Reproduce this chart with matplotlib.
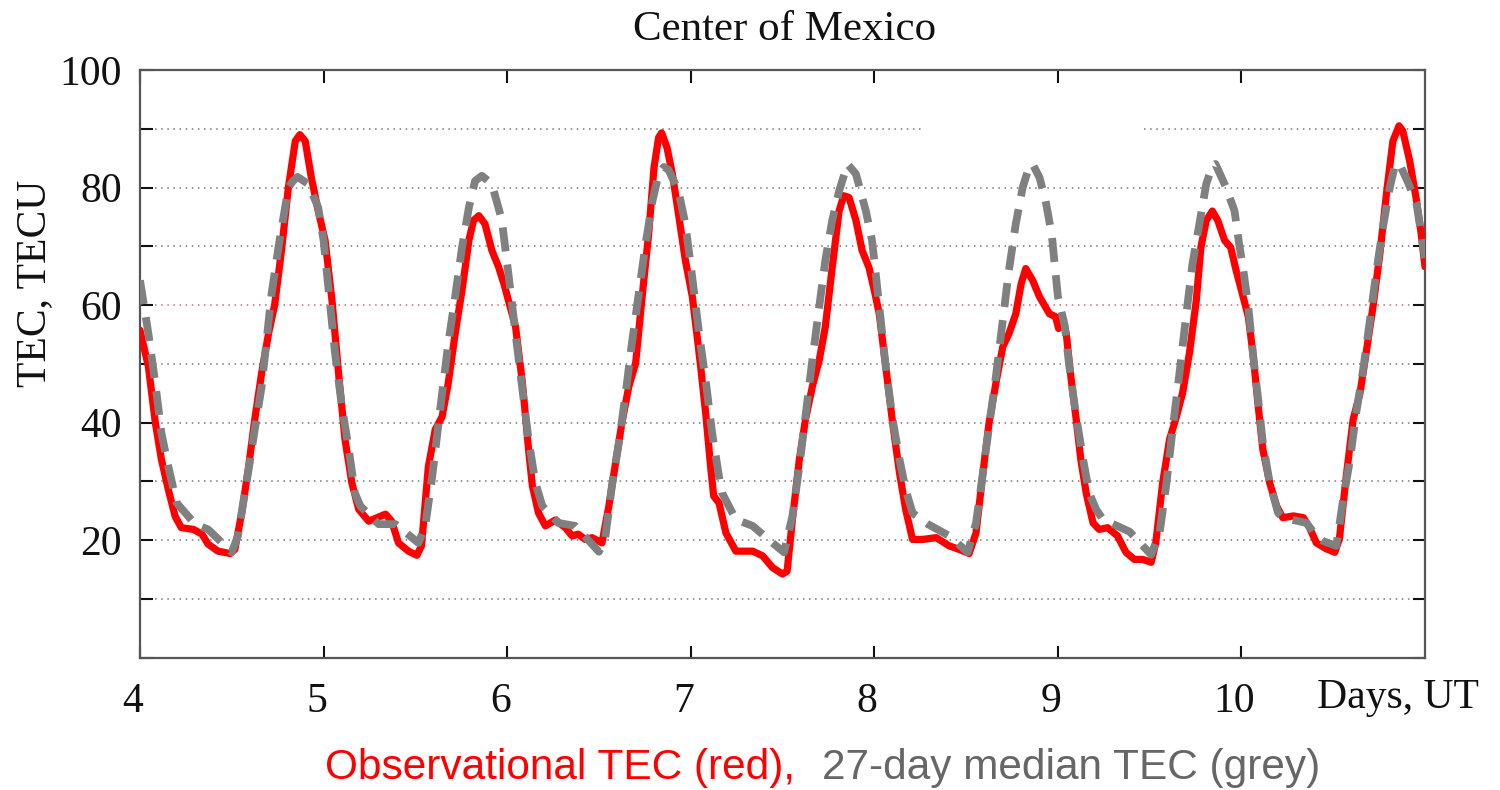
import numpy as np
import matplotlib
matplotlib.use("Agg")
import matplotlib.pyplot as plt
from matplotlib.transforms import ScaledTranslation

# observed TEC (red): hours UT counted from day 4, 00:00
obs_hours = [0.0, 1.1, 2.0, 2.8, 3.7, 4.6, 5.4, 7.0, 8.1, 8.9, 10.2, 11.8, 12.4, 13.3, 14.2, 15.0,
             15.9, 16.8, 17.6, 18.5, 19.4, 20.3, 20.9, 21.6, 22.4, 23.3,
             24.2, 25.1, 26.0, 26.8, 27.7, 28.6, 29.9, 32.1, 32.9, 33.8, 35.1, 36.2, 36.8, 37.7,
             38.6, 39.5, 40.3, 41.2, 42.1, 43.0, 43.6, 44.3, 45.1, 46.0, 46.9, 47.6,
             49.1, 50.0, 50.8, 51.3, 52.1, 53.0, 54.3, 55.6, 56.5, 57.3, 58.2, 59.1, 60.4, 61.3,
             62.1, 63.0, 63.9, 64.8, 65.6, 66.5, 67.2, 67.8, 68.2, 68.9, 69.6, 70.4, 71.3,
             72.2, 72.9, 73.3, 74.0, 74.6, 75.0, 75.7, 76.6, 77.9, 80.1, 81.4, 82.7, 84.0, 84.6,
             85.3, 86.2, 87.0, 87.9, 88.8, 89.6, 90.5, 91.4, 92.0, 92.7, 93.6, 94.4, 95.3,
             96.0, 96.65, 97.5, 98.4, 99.3, 100.1, 101.0, 102.3, 104.1, 105.8, 107.1, 108.4,
             109.3, 110.2, 111.0, 111.9, 112.8, 113.6, 114.5, 115.2, 115.8, 116.7, 117.6, 118.9,
             119.7, 120.1, 120.5, 121.1, 121.7, 122.4, 123.0, 123.7, 124.6, 125.4, 126.5, 127.8,
             128.9, 130.0, 131.1, 132.2, 132.8, 133.7, 134.6, 135.5, 136.3, 137.2, 138.1, 138.7,
             139.4, 140.2, 140.9, 141.8, 142.6, 143.3,
             144.0, 144.9, 145.5, 146.2, 146.8, 147.7, 148.6, 149.4, 150.8, 152.1, 152.9, 153.8,
             155.1, 156.2, 156.8, 157.7, 158.6, 159.5, 160.3, 161.2, 162.1, 163.0, 163.8, 164.6,
             165.1, 166.0, 166.9, 167.5, 168.0]
obs_tec = [55.7, 49.5, 40.0, 33.7, 28.6, 24.0, 22.1, 21.8, 21.0, 19.3, 18.1, 17.7, 18.4, 24.6, 32.5, 40.5,
           48.4, 55.1, 60.0, 69.3, 80.0, 87.9, 89.0, 87.9, 81.7, 76.0,
           71.0, 60.8, 47.8, 37.1, 29.7, 25.2, 23.2, 24.4, 23.2, 19.5, 18.1, 17.4, 19.0, 32.5,
           38.8, 41.0, 46.7, 55.1, 62.5, 71.0, 74.4, 75.2, 73.8, 69.3, 66.4, 63.5,
           56.3, 46.7, 35.4, 29.2, 24.6, 22.4, 23.4, 22.1, 20.7, 21.0, 20.1, 20.4, 19.5, 25.8,
           32.5, 39.9, 46.1, 50.1, 60.8, 72.1, 83.4, 88.5, 89.3, 86.8, 82.3, 75.5, 67.6,
           61.5, 54.0, 49.5, 41.0, 32.5, 27.5, 26.3, 21.2, 18.1, 18.1, 17.3, 15.3, 14.2, 14.7,
           23.5, 33.7, 40.5, 46.1, 50.6, 56.3, 66.4, 76.0, 78.6, 78.3, 74.4, 69.3, 66.4,
           62.5, 58.5, 49.5, 39.9, 31.4, 25.2, 20.1, 20.1, 20.4, 19.0, 18.4, 17.7,
           21.2, 31.4, 39.9, 46.7, 52.9, 55.1, 58.5, 63.6, 66.2, 64.2, 61.4, 58.5,
           58.0, 56.0, 58.2, 55.1, 47.8, 40.5, 33.7, 28.0, 22.9, 21.8, 22.1, 20.7,
           17.9, 16.7, 16.7, 16.2, 19.5, 29.7, 37.1, 41.0, 45.0, 51.8, 60.8, 69.8,
           74.4, 76.0, 74.4, 71.0, 69.8, 65.9,
           62.5, 58.0, 51.8, 42.7, 35.4, 29.7, 25.8, 23.8, 24.1, 23.8, 22.1, 19.5,
           18.5, 17.9, 20.1, 30.8, 40.5, 45.0, 51.8, 59.7, 68.7, 79.4, 87.9, 90.5,
           89.6, 84.5, 77.7, 72.1, 66.5]

# 27-day median TEC (grey)
med_hours = [0.0, 1.1, 2.0, 2.8, 3.7, 4.8, 7.2, 8.9, 9.4, 12.0, 12.8, 14.2, 15.0, 15.9, 17.2, 18.1,
             19.4, 20.0, 20.6, 22.0, 23.3,
             24.0, 24.7, 25.5, 26.4, 27.3, 28.1, 28.8, 31.2, 33.4, 36.4, 37.3, 38.2, 39.5, 40.3,
             41.2, 42.1, 43.0, 43.8, 44.7, 46.0, 47.3,
             48.1, 49.1, 50.0, 50.8, 51.7, 52.6, 54.7, 56.9, 60.0, 60.8, 61.7, 62.6, 63.5, 64.3,
             65.2, 66.1, 67.0, 67.8, 68.5, 69.1, 70.4, 71.3,
             72.2, 73.1, 74.0, 74.8, 75.7, 76.1, 77.9, 80.1, 82.7, 84.2, 85.3, 86.2, 87.0, 87.9,
             88.8, 89.6, 90.5, 91.4, 92.5, 93.6, 94.9, 95.7,
             96.0, 96.65, 97.5, 98.4, 99.3, 100.1, 101.0, 103.0, 105.8, 108.2, 109.3, 110.2,
             111.0, 111.9, 112.8, 113.6, 114.5, 115.4, 116.2, 116.7, 117.6, 118.4, 119.2,
             120.0, 120.9, 121.5, 122.4, 123.3, 124.1, 125.0, 125.9, 129.4, 131.1, 132.2, 133.3,
             134.2, 135.0, 135.9, 136.8, 137.6, 138.5, 139.4, 140.2, 140.6, 142.0, 143.1, 143.7,
             144.2, 144.9, 145.5, 146.2, 146.8, 147.7, 148.8, 149.4, 152.5, 153.8, 154.7, 156.4,
             157.3, 158.2, 159.0, 159.9, 160.8, 161.6, 162.5, 163.4, 164.0, 164.6, 165.8, 166.9,
             167.7, 168.0]
med_tec = [64.2, 55.1, 46.7, 38.2, 32.5, 26.3, 22.7, 21.8, 21.2, 17.9, 20.7, 32.0, 38.8, 46.1, 61.9, 69.8,
           80.0, 81.1, 81.8, 80.6, 76.6,
           71.0, 62.0, 51.8, 42.7, 35.4, 28.0, 25.8, 22.7, 22.7, 19.5, 22.4, 30.8, 45.0, 53.4,
           61.4, 69.8, 76.6, 81.1, 82.0, 80.6, 74.5,
           66.0, 55.1, 45.5, 37.1, 29.7, 25.8, 22.9, 22.4, 18.0, 20.1, 29.2, 36.5, 45.0, 53.4,
           61.9, 70.4, 77.7, 82.3, 83.5, 83.0, 79.4, 73.8,
           64.7, 55.1, 46.7, 38.2, 30.8, 28.0, 23.5, 22.4, 19.5, 17.9, 24.1, 32.5, 41.0, 50.6,
           59.7, 67.6, 74.4, 79.4, 84.0, 82.3, 76.0, 71.0,
           67.6, 59.7, 49.5, 40.5, 33.7, 28.6, 24.6, 22.7, 20.7, 17.9, 22.9, 31.4,
           39.3, 47.8, 57.4, 65.9, 73.8, 80.0, 83.4, 84.0, 81.7, 77.7, 72.0,
           61.5, 56.5, 49.5, 41.0, 33.7, 28.0, 25.2, 23.5, 21.4, 19.0, 17.5, 21.2,
           29.7, 38.8, 48.4, 58.5, 67.0, 73.8, 80.6, 83.7, 84.0, 80.0, 76.0, 70.4,
           66.4, 59.7, 51.8, 43.8, 36.5, 29.7, 24.6, 23.8, 22.9, 20.7, 19.8, 19.0,
           26.9, 33.7, 41.6, 48.9, 57.4, 65.3, 73.2, 80.0, 83.4, 84.2, 80.8, 77.2,
           70.4, 68.0]

day_ticks = [4, 5, 6, 7, 8, 9, 10]
tec_ticks = [0, 10, 20, 30, 40, 50, 60, 70, 80, 90, 100]
tec_labels = ['', '', '20', '', '40', '', '60', '', '80', '', '100']
grid_levels = [10, 20, 30, 40, 50, 60, 70, 80, 90]

serif = 'Liberation Serif'
sans = 'Liberation Sans'

fig = plt.figure(figsize=(15, 7.9), dpi=100)
ax = fig.add_axes([140/1500, 1 - 657.5/790, 1285/1500, 587.5/790])

obs_x = 4 + np.array(obs_hours) / 24.0
med_x = 4 + np.array(med_hours) / 24.0

# dotted grid, the 90 line has a gap in the original
for lev in grid_levels:
    col = '#c07070' if lev == 60 else '#777777'
    if lev == 90:
        ax.hlines(lev, 4.05, 8.27, colors=col, linestyles=(0, (1, 3)), linewidth=1.1, zorder=1)
        ax.hlines(lev, 9.47, 10.95, colors=col, linestyles=(0, (1, 3)), linewidth=1.1, zorder=1)
    else:
        ax.hlines(lev, 4.05, 10.95, colors=col, linestyles=(0, (1, 3)), linewidth=1.1, zorder=1)

ax.plot(obs_x, obs_tec, color='#ff0000', linewidth=5.2, solid_joinstyle='round',
        solid_capstyle='round', zorder=3)
med_line, = ax.plot(med_x, med_tec, color='#808080', linewidth=5.6, zorder=4,
                    dash_capstyle='butt')
med_line.set_dashes((3.1, 1.7))

ax.set_xlim(4, 11)
ax.set_ylim(0, 100)
ax.set_xticks(day_ticks)
ax.set_xticklabels([str(d) for d in day_ticks], fontfamily=serif, fontsize=30)
ax.set_yticks(tec_ticks)
ax.set_yticklabels(tec_labels, fontfamily=serif, fontsize=30)
ax.tick_params(axis='x', direction='in', length=9, width=1.5, top=True, pad=18, colors='#111111')
ax.tick_params(axis='y', direction='in', length=9, width=1.5, right=True, pad=13, colors='#111111')
for lab in ax.get_xticklabels():
    lab.set_transform(lab.get_transform() + ScaledTranslation(-7/100, 0, fig.dpi_scale_trans))
for sp in ax.spines.values():
    sp.set_color('#555555')
    sp.set_linewidth(1.6)

fig.text(785/1500, 1 - 30/790, 'Center of Mexico', fontfamily=serif, fontsize=31,
         ha='center', va='center', color='#111111')
fig.text(35/1500, 1 - 283/790, 'TEC, TECU', fontfamily=serif, fontsize=30, rotation=90,
         ha='center', va='center', color='#111111')
fig.text(1398/1500, 1 - 698/790, 'Days, UT', fontfamily=serif, fontsize=30,
         ha='center', va='center', color='#111111')
fig.text(325/1500, 1 - 768/790, 'Observational TEC (red),', fontfamily=sans, fontsize=30.5,
         ha='left', va='center', color='#ff0000')
fig.text(822/1500, 1 - 768/790, '27-day median TEC (grey)', fontfamily=sans, fontsize=30.5,
         ha='left', va='center', color='#666666')

fig.savefig('out.png', dpi=100)
